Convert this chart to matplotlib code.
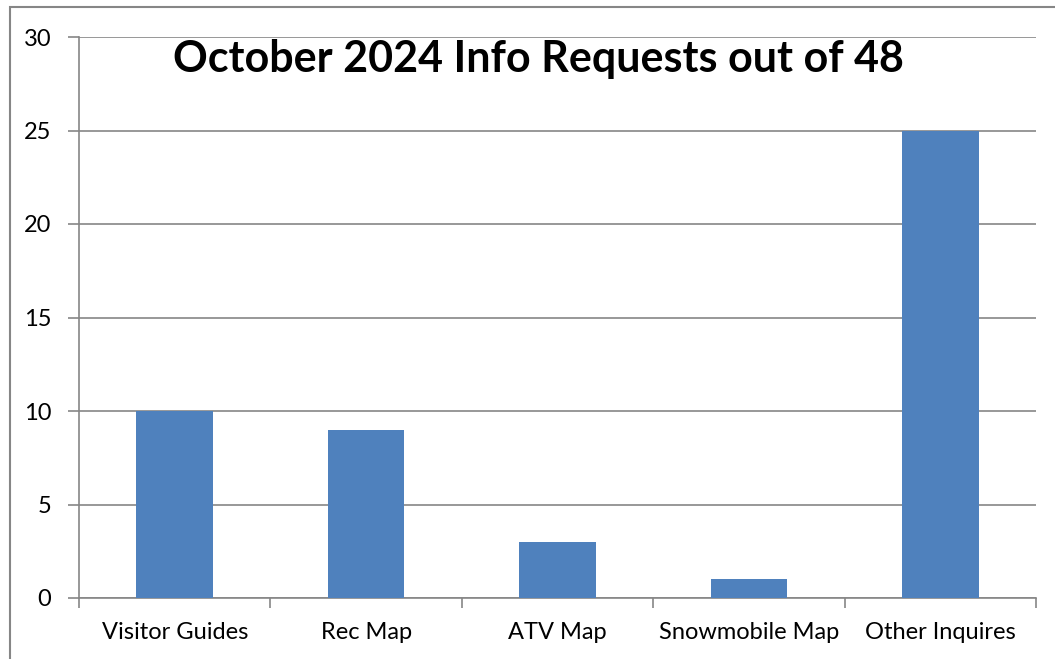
import matplotlib
matplotlib.use("Agg")
import matplotlib.pyplot as plt
from matplotlib.patches import Rectangle

categories = ["Visitor Guides", "Rec Map", "ATV Map", "Snowmobile Map", "Other Inquires"]
values = [10, 9, 3, 1, 25]
yticks = [0, 5, 10, 15, 20, 25, 30]
title = "October 2024 Info Requests out of 48"

plt.rcParams['font.family'] = ['Lato', 'DejaVu Sans']
W, H = 1055, 659
fig = plt.figure(figsize=(W/100, H/100), dpi=100)
ax = fig.add_axes([79/W, 1-598/H, (1036-79)/W, (598-37)/H])

x = list(range(len(categories)))
ax.bar(x, values, width=0.4, color="#4F81BD", zorder=3)
ax.set_xlim(-0.5, len(categories)-0.5)
ax.set_ylim(0, 30)
ax.set_yticks(yticks)
ax.set_yticklabels([str(v) for v in yticks], fontsize=17)
ax.yaxis.grid(True, color="#868686", linewidth=1.2, zorder=0)
ax.set_xticks(x)
ax.set_xticklabels(categories, fontsize=17)
ax.tick_params(axis='x', length=0, pad=17)
ax.set_xticks([i - 0.5 for i in range(len(categories)+1)], minor=True)
ax.tick_params(axis='x', which='minor', length=7, color="#868686", width=1.2)
ax.tick_params(axis='y', length=8, color="#868686", width=1.2, pad=12)
for s in ['top', 'right']:
    ax.spines[s].set_visible(False)
for s in ['left', 'bottom']:
    ax.spines[s].set_color("#868686")
    ax.spines[s].set_linewidth(1.2)

ax.text(0.48, 0.96, title, transform=ax.transAxes, ha='center', va='center',
        fontsize=31, fontweight='bold')

fig.add_artist(Rectangle((10/W, -0.1), 1.2, 1 - 7/H + 0.1, transform=fig.transFigure,
                         fill=False, edgecolor="#868686", linewidth=1.5))

fig.savefig("out.png", dpi=100)
